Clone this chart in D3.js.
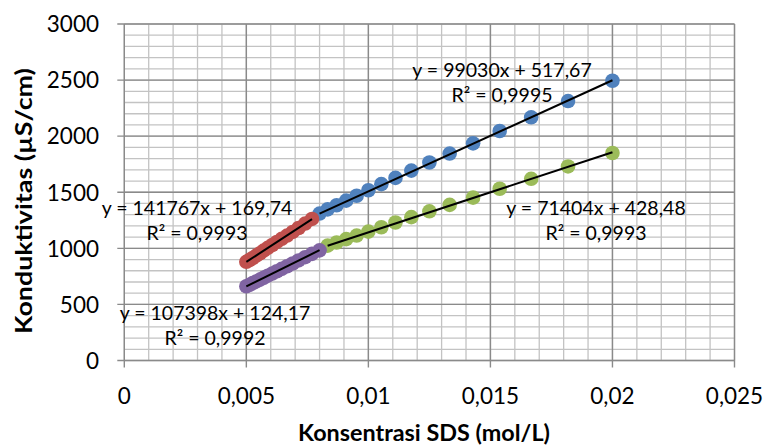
<!DOCTYPE html>
<html>
<head>
<meta charset="utf-8">
<script src="https://cdn.jsdelivr.net/npm/d3@7"></script>
<style>
  body { margin: 0; background: #fff; }
  svg { display: block; font-family: Lato, "Open Sans", sans-serif; }
</style>
</head>
<body>
<svg id="chart" width="766" height="447"></svg>
<script>
const xTicks = [0, 0.005, 0.01, 0.015, 0.02, 0.025];
const xTickLabels = ["0", "0,005", "0,01", "0,015", "0,02", "0,025"];
const yTicks = [0, 500, 1000, 1500, 2000, 2500, 3000];
const yTickLabels = ["0", "500", "1000", "1500", "2000", "2500", "3000"];

// upper series (blue above break, red below)
const blueX = [0.02, 0.01818, 0.01667, 0.01538, 0.01429, 0.01333, 0.0125, 0.01176, 0.01111, 0.01053, 0.01, 0.00952, 0.00909, 0.0087, 0.00833, 0.008];
const blueY = [2494, 2313, 2168, 2046, 1936, 1845, 1765, 1693, 1628, 1572, 1518, 1469, 1425, 1384, 1347, 1310];
const redX = [0.00769, 0.00741, 0.00714, 0.0069, 0.00667, 0.00645, 0.00625, 0.00606, 0.00588, 0.00571, 0.00556, 0.00541, 0.00526, 0.00513, 0.005];
const redY = [1262, 1221, 1181, 1146, 1114, 1085, 1057, 1030, 1004, 980, 956, 935, 914, 896, 880];

// lower series (green above break, purple below)
const greenX = [0.02, 0.01818, 0.01667, 0.01538, 0.01429, 0.01333, 0.0125, 0.01176, 0.01111, 0.01053, 0.01, 0.00952, 0.00909, 0.0087, 0.00833];
const greenY = [1850, 1730, 1620, 1531, 1452, 1387, 1330, 1278, 1230, 1188, 1149, 1114, 1082, 1052, 1024];
const purpleX = [0.008, 0.00769, 0.00741, 0.00714, 0.0069, 0.00667, 0.00645, 0.00625, 0.00606, 0.00588, 0.00571, 0.00556, 0.00541, 0.00526, 0.00513, 0.005];
const purpleY = [982, 951, 921, 892, 865, 840, 817, 796, 775, 756, 738, 721, 705, 690, 675, 662];

const slopes = [99030, 141767, 71404, 107398];
const intercepts = [517.67, 169.74, 428.48, 124.17];
const eqLabels = ["y = 99030x + 517,67", "y = 141767x + 169,74", "y = 71404x + 428,48", "y = 107398x + 124,17"];
const r2Labels = ["R² = 0,9995", "R² = 0,9993", "R² = 0,9993", "R² = 0,9992"];

const colors = ["#4f81bd", "#c0504d", "#9bbb59", "#8064a2"];

const series = [
  { xs: blueX, ys: blueY },
  { xs: redX, ys: redY },
  { xs: greenX, ys: greenY },
  { xs: purpleX, ys: purpleY }
];

// label anchor (center x, baseline y) for each equation
const labelPos = [[502, 77], [197, 215], [596, 215], [215, 320]];

const svg = d3.select("#chart");

const x = d3.scaleLinear().domain([0, 0.025]).range([124.3, 734.5]);
const y = d3.scaleLinear().domain([0, 3000]).range([360.5, 24]);

const grid = svg.append("g");

// minor gridlines
grid.selectAll(".vminor")
  .data(d3.range(0, 26).map(i => i * 0.001))
  .enter().append("line")
  .attr("x1", d => x(d)).attr("x2", d => x(d))
  .attr("y1", y(0)).attr("y2", y(3000))
  .attr("stroke", "#c3c3c3").attr("stroke-width", 1.3);

grid.selectAll(".hminor")
  .data(d3.range(0, 31).map(i => i * 100))
  .enter().append("line")
  .attr("x1", x(0)).attr("x2", x(0.025))
  .attr("y1", d => y(d)).attr("y2", d => y(d))
  .attr("stroke", "#c3c3c3").attr("stroke-width", 1.3);

// major gridlines with outside ticks
grid.selectAll(".vmajor")
  .data(xTicks)
  .enter().append("line")
  .attr("x1", d => x(d)).attr("x2", d => x(d))
  .attr("y1", y(0) + 7).attr("y2", y(3000))
  .attr("stroke", "#8a8a8a").attr("stroke-width", 1.4);

grid.selectAll(".hmajor")
  .data(yTicks)
  .enter().append("line")
  .attr("x1", x(0) - 7).attr("x2", x(0.025))
  .attr("y1", d => y(d)).attr("y2", d => y(d))
  .attr("stroke", "#8a8a8a").attr("stroke-width", 1.4);

// tick labels
svg.append("g").selectAll("text")
  .data(yTicks)
  .enter().append("text")
  .attr("x", 99)
  .attr("y", d => y(d))
  .attr("dy", "0.37em")
  .attr("text-anchor", "end")
  .attr("font-size", 22.5)
  .attr("fill", "#000")
  .text((d, i) => yTickLabels[i]);

svg.append("g").selectAll("text")
  .data(xTicks)
  .enter().append("text")
  .attr("x", d => x(d))
  .attr("y", 404)
  .attr("text-anchor", "middle")
  .attr("font-size", 22.5)
  .attr("fill", "#000")
  .text((d, i) => xTickLabels[i]);

// markers
series.forEach((s, i) => {
  svg.append("g").selectAll("circle")
    .data(s.xs)
    .enter().append("circle")
    .attr("cx", d => x(d))
    .attr("cy", (d, j) => y(s.ys[j]))
    .attr("r", 7.3)
    .attr("fill", colors[i]);
});

// trendlines over each segment range
series.forEach((s, i) => {
  let x0 = d3.min(s.xs), x1 = d3.max(s.xs);
  svg.append("line")
    .attr("x1", x(x0)).attr("y1", y(slopes[i] * x0 + intercepts[i]))
    .attr("x2", x(x1)).attr("y2", y(slopes[i] * x1 + intercepts[i]))
    .attr("stroke", "#000").attr("stroke-width", 2);
});

// equation labels
labelPos.forEach((p, i) => {
  let g = svg.append("g").attr("font-size", 19.5).attr("text-anchor", "middle").attr("fill", "#000");
  g.append("text").attr("x", p[0]).attr("y", p[1]).text(eqLabels[i]);
  g.append("text").attr("x", p[0]).attr("y", p[1] + 24.5).text(r2Labels[i]);
});

// axis titles
svg.append("text")
  .attr("x", 424)
  .attr("y", 441)
  .attr("text-anchor", "middle")
  .attr("font-size", 22)
  .attr("font-weight", "bold")
  .attr("textLength", 252)
  .attr("lengthAdjust", "spacingAndGlyphs")
  .text("Konsentrasi SDS (mol/L)");

svg.append("text")
  .attr("transform", "translate(32,201) rotate(-90)")
  .attr("text-anchor", "middle")
  .attr("font-size", 22)
  .attr("font-weight", "bold")
  .attr("textLength", 266)
  .attr("lengthAdjust", "spacingAndGlyphs")
  .text("Konduktivitas (µS/cm)");
</script>
</body>
</html>
